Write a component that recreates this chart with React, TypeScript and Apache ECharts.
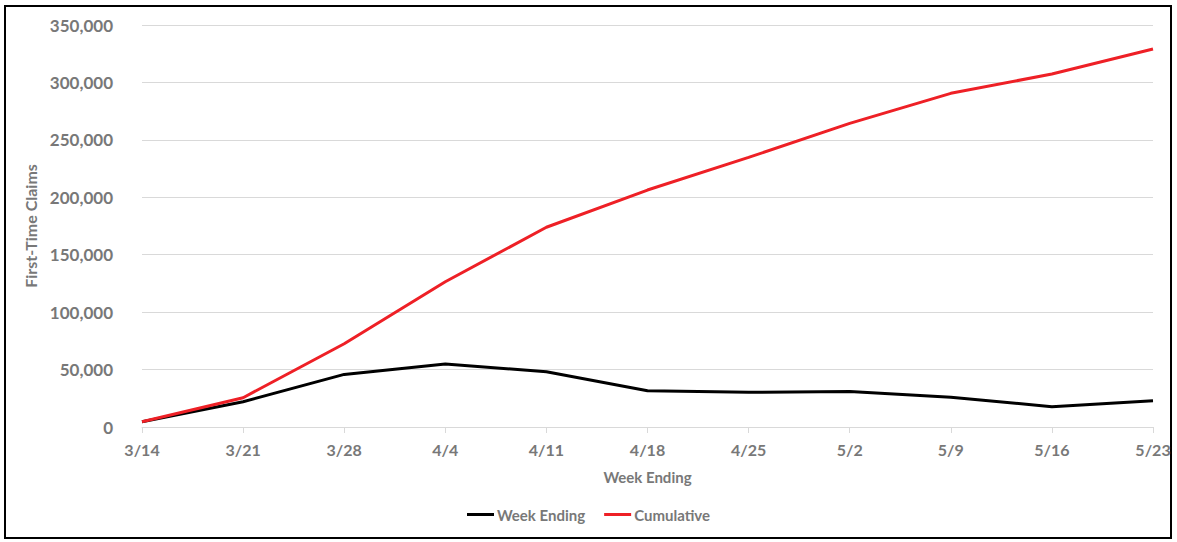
import React, { useEffect, useRef } from "react";
import * as echarts from "echarts";

const categories = ["3/14", "3/21", "3/28", "4/4", "4/11", "4/18", "4/25", "5/2", "5/9", "5/16", "5/23"];
const weekEnding = [4600, 22000, 45800, 54800, 48100, 31600, 30200, 31000, 25800, 17700, 22900];
const cumulative = [4600, 25500, 72500, 126500, 173900, 206300, 234700, 264400, 290500, 307300, 329100];

const FONT = "Lato";
const GRAY = "#787878";

export default function App() {
  const ref = useRef<HTMLDivElement>(null);
  useEffect(() => {
    document.body.style.margin = "0";
    const chart = echarts.init(ref.current!, null, { renderer: "svg" });
    chart.setOption({
      animation: false,
      backgroundColor: "#ffffff",
      graphic: [
        {
          type: "rect",
          shape: { x: 5, y: 6, width: 1166, height: 532 },
          style: { fill: "none", stroke: "#000000", lineWidth: 2 },
          silent: true,
        },
      ],
      grid: { left: 142, right: 24, top: 25, bottom: 115 },
      legend: {
        bottom: 15,
        left: "center",
        icon: "rect",
        itemWidth: 27,
        itemHeight: 3,
        itemGap: 19,
        textStyle: { fontFamily: FONT, fontSize: 15, fontWeight: "bold", color: GRAY, padding: [0, 0, 0, -2] },
        data: ["Week Ending", "Cumulative"],
      },
      xAxis: {
        type: "category",
        data: categories,
        boundaryGap: false,
        name: "Week Ending",
        nameLocation: "middle",
        nameGap: 42,
        nameTextStyle: { fontFamily: FONT, fontSize: 15, fontWeight: "bold", color: GRAY },
        axisLine: { lineStyle: { color: "#d9d9d9", width: 1 } },
        axisTick: { show: true, length: 6, lineStyle: { color: "#d9d9d9" } },
        axisLabel: { fontFamily: FONT, fontSize: 16, fontWeight: "bold", color: GRAY, margin: 14 },
        splitLine: { show: false },
      },
      yAxis: {
        type: "value",
        min: 0,
        max: 350000,
        interval: 50000,
        name: "First-Time Claims",
        nameLocation: "middle",
        nameGap: 99,
        nameTextStyle: { fontFamily: FONT, fontSize: 16, fontWeight: "bold", color: GRAY },
        axisLine: { show: false },
        axisTick: { show: false },
        axisLabel: {
          fontFamily: FONT,
          fontSize: 17,
          fontWeight: "bold",
          color: GRAY,
          margin: 29,
          formatter: (v: number) => v.toLocaleString("en-US"),
        },
        splitLine: { lineStyle: { color: "#d9d9d9", width: 1 } },
      },
      series: [
        {
          name: "Week Ending",
          type: "line",
          data: weekEnding,
          symbol: "none",
          lineStyle: { color: "#000000", width: 3 },
          itemStyle: { color: "#000000" },
        },
        {
          name: "Cumulative",
          type: "line",
          data: cumulative,
          symbol: "none",
          lineStyle: { color: "#ee2026", width: 3 },
          itemStyle: { color: "#ee2026" },
        },
      ],
    });
    return () => chart.dispose();
  }, []);
  return <div ref={ref} style={{ width: 1177, height: 542 }} />;
}
